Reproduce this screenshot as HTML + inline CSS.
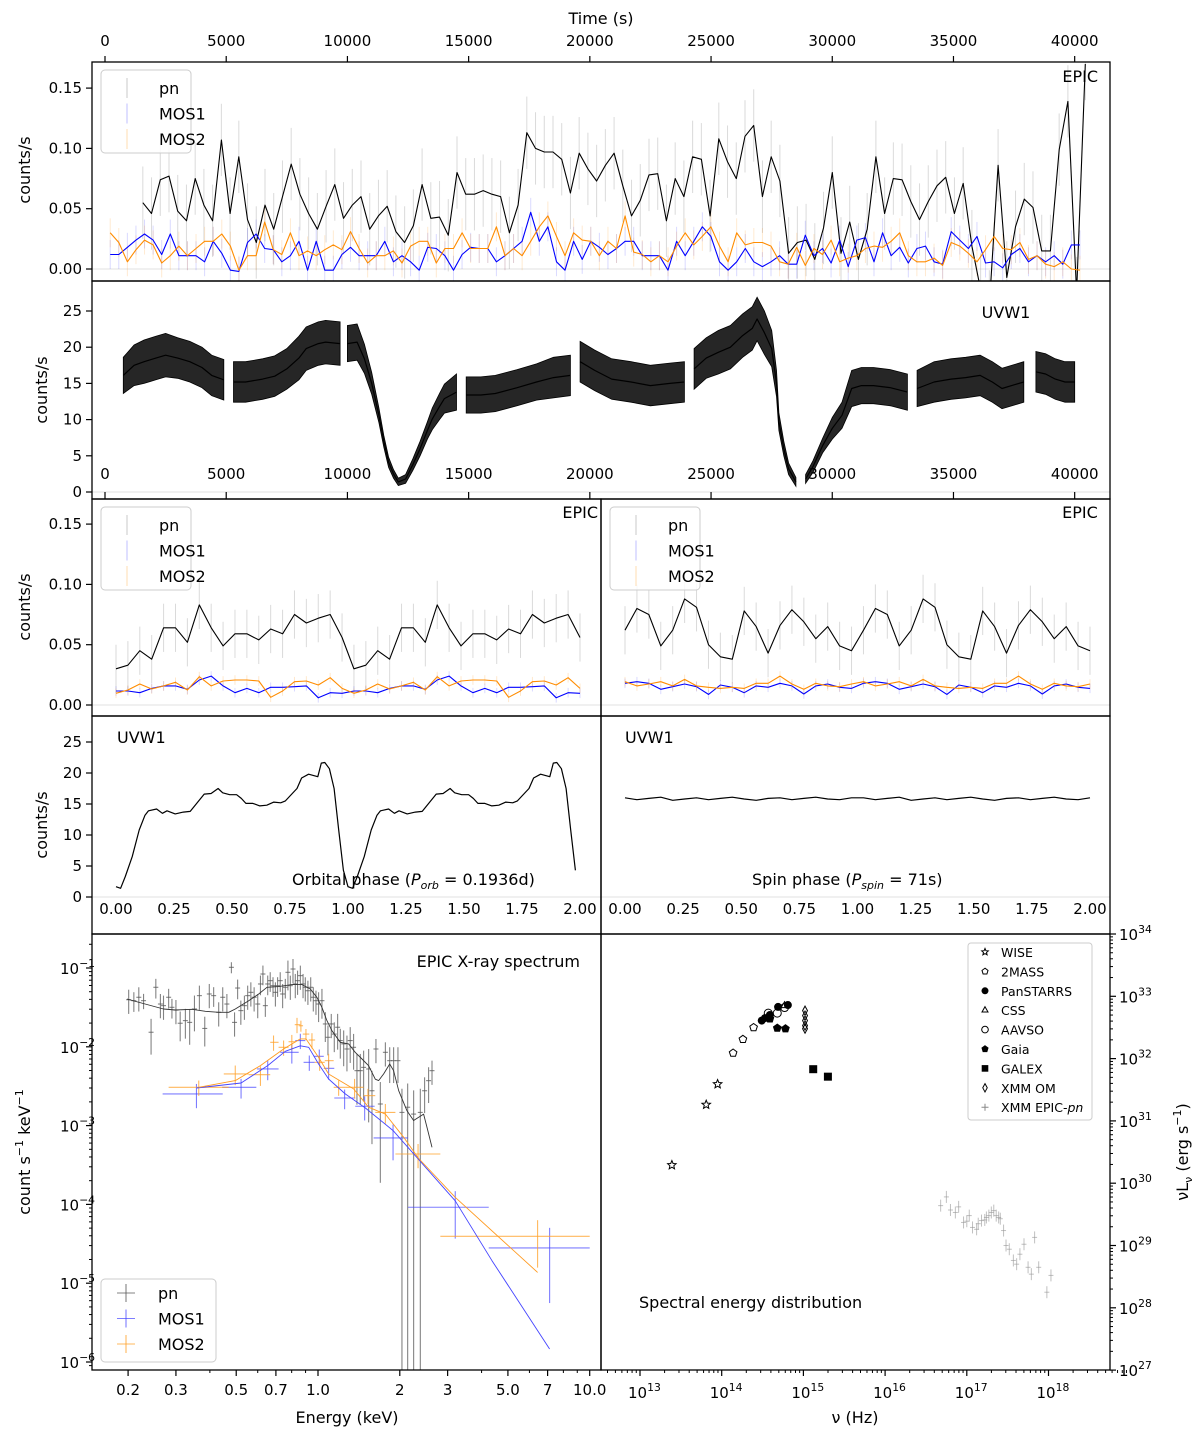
<!DOCTYPE html>
<html><head><meta charset="utf-8"><title>Light curves and spectra</title>
<style>
html,body{margin:0;padding:0;background:#fff;}
svg{display:block;font-family:"DejaVu Sans","Liberation Sans",sans-serif;}
text{fill:#000;}
</style></head>
<body>
<svg id="fig" width="1200" height="1433" viewBox="0 0 1200 1433" xmlns="http://www.w3.org/2000/svg">
<defs>
<clipPath id="c1"><rect x="92" y="62" width="1018" height="219"/></clipPath>
<clipPath id="c2"><rect x="92" y="281" width="1018" height="218"/></clipPath>
<clipPath id="c3l"><rect x="92" y="499" width="509" height="217"/></clipPath>
<clipPath id="c3r"><rect x="601" y="499" width="509" height="217"/></clipPath>
<clipPath id="c4l"><rect x="92" y="716" width="509" height="218"/></clipPath>
<clipPath id="c4r"><rect x="601" y="716" width="509" height="218"/></clipPath>
<clipPath id="c5l"><rect x="92" y="934" width="509" height="436"/></clipPath>
<clipPath id="c5r"><rect x="601" y="934" width="509" height="436"/></clipPath>
</defs>
</svg>
<script>
// ---------- DATA ----------
const pnT0 = 1560, pnDt = 360;
const pnRate = [0.055,0.046,0.074,0.077,0.048,0.040,0.075,0.053,0.040,0.107,
0.046,0.093,0.041,0.022,0.053,0.033,0.060,0.087,0.062,0.046,
0.033,0.052,0.070,0.042,0.053,0.060,0.033,0.044,0.052,0.031,
0.022,0.036,0.070,0.042,0.043,0.028,0.080,0.062,0.062,0.065,
0.062,0.060,0.030,0.053,0.113,0.100,0.097,0.097,0.091,0.063,
0.096,0.083,0.073,0.086,0.096,0.069,0.044,0.057,0.078,0.079,
0.040,0.075,0.060,0.093,0.091,0.044,0.108,0.089,0.075,0.110,
0.119,0.060,0.093,0.073,0.013,0.022,0.024,0.008,0.034,0.080,
0.013,0.039,0.008,0.033,0.093,0.046,0.075,0.074,0.056,0.041,
0.056,0.069,0.076,0.046,0.071,0.019,-0.017,-0.031,0.086,-0.007,
0.035,0.058,0.051,0.015,0.015,0.099,0.139,-0.020,0.17];
const mosT0 = 215, mosDt = 354;
const mos1Rate = [0.012,0.012,0.018,0.024,0.029,0.024,0.012,0.029,0.011,0.011,0.011,0.006,0.023,0.013,-0.001,-0.002,0.022,0.029,0.017,0.016,
0.006,0.011,0.023,-0.001,0.023,-0.001,-0.001,0.012,0.018,0.011,0.011,0.011,0.023,0.006,0.011,0.006,-0.001,0.018,0.017,0.011,
-0.001,0.012,0.018,0.017,0.017,0.006,0.011,0.017,0.023,0.047,0.023,0.035,0.006,-0.001,0.023,0.008,0.023,0.018,0.012,0.017,
0.023,0.023,0.011,0.011,0.011,-0.001,0.023,0.011,0.023,0.035,0.027,0.006,-0.001,0.006,0.017,0.006,0.002,0.006,0.011,0.004,
0.004,0.028,0.011,0.017,0.005,0.024,0.002,0.024,0.026,0.006,0.030,0.011,0.018,0.005,0.017,0.019,0.006,0.004,0.031,0.024,
0.017,0.027,0.005,0.006,0.001,0.012,0.017,0.006,0.011,0.006,0.011,0.004,0.020,0.020];
const mos2Rate = [0.030,0.022,0.006,0.016,0.024,0.020,0.005,0.011,0.019,0.011,0.017,0.023,0.023,0.029,0.019,-0.001,0.011,0.011,0.039,0.016,
0.012,0.030,0.011,0.015,0.011,0.016,0.020,0.016,0.031,0.017,0.005,0.011,0.011,0.015,0.005,0.019,0.023,0.023,0.005,0.017,
0.017,0.030,0.017,0.017,0.017,0.035,0.011,0.017,0.011,0.023,0.035,0.044,0.027,0.011,0.030,0.024,0.023,0.011,0.023,0.017,
0.044,0.014,0.012,0.006,0.011,0.006,0.019,0.030,0.020,0.027,0.035,0.019,0.006,0.030,0.020,0.022,0.022,0.019,0.006,0.004,
0.018,0.003,0.017,0.012,0.024,0.006,0.009,0.011,0.017,0.019,0.018,0.023,0.030,0.011,0.006,0.006,0.009,0.003,0.022,0.019,
0.013,0.006,0.016,0.027,0.017,0.016,0.022,0.008,0.011,0.004,0.002,0.006,0.000,-0.001];
const pnErr = 0.03, mosErr = 0.012;

const uvTime = [754,1200,1614,2100,2500,3000,3500,4000,4400,4900,null,5300,5800,6500,7000,7500,8000,8300,8800,9100,9700,null,
10000,10400,10700,11000,11300,11500,11700,11900,12100,12400,12700,13000,13300,13500,13800,14000,14500,null,
14900,15500,16100,17000,17800,18500,19200,null,19600,20200,20900,21700,22500,23300,23900,null,
24300,24800,25300,25800,26300,26700,26900,27200,27500,27700,27800,28000,28200,28500,null,
28900,29200,29600,30000,30400,30800,31200,31700,32400,33100,null,33500,34200,34900,35500,36100,36600,37000,37500,37900,null,
38400,38800,39200,39600,40000];
const uvRate = [16.1,17.5,18,18.5,18.9,18.5,18,17.2,16.1,15.5,null,15.2,15.2,15.6,16,17,18.5,19.8,20.5,20.7,20.5,null,
20.5,20.7,18.4,15,10.6,7,4.1,2.5,1.4,1.8,3.8,6,8.5,10.1,11.8,12.9,13.8,null,
13.4,13.4,13.6,14.4,15.2,15.8,16.1,null,18,16.8,15.6,15.2,14.7,15,15.2,null,
17,18.5,19.3,20,21.6,22.6,23.9,22,19.8,15,9.7,6,3.2,1.4,null,
1.8,3.5,6.4,8.8,10.6,14.3,14.7,14.7,14.4,13.8,null,14.3,15.2,15.6,15.8,16.1,15.2,14.3,14.8,15.2,null,
16.6,16.3,15.6,15.2,15.2];
const uvScatter = [2.5,2.8,3,3,3,2.8,2.8,2.8,2.8,2.8,null,2.8,2.8,2.8,2.8,2.8,3,3,3,3,3,null,
2.5,2.5,2,1.5,1,0.8,0.7,0.6,0.5,0.6,0.8,1,1.2,1.5,1.8,2,2.5,null,
2.5,2.5,2.5,2.5,2.5,2.8,2.8,null,2.8,2.8,2.8,2.8,2.8,2.8,2.8,null,
2.8,2.8,3,3,3,3,3,3,2.5,1.8,1.2,1,0.8,0.6,null,
0.6,0.8,1,1.5,1.8,2.5,2.5,2.5,2.5,2.5,null,2.5,2.8,2.8,2.8,2.8,2.8,2.8,2.8,2.8,null,
2.8,2.8,2.8,2.8,2.8];

const orbPn = [0.030,0.033,0.045,0.038,0.064,0.064,0.052,0.083,0.064,0.049,0.059,0.059,0.054,0.063,0.059,0.075,0.068,0.072,0.075,0.056];
const orbMos1 = [0.0116,0.0116,0.0102,0.0138,0.0158,0.0158,0.013,0.0207,0.024,0.0158,0.0102,0.0138,0.0102,0.0147,0.0147,0.0152,0.0158,0.006,0.0102,0.0097];
const orbMos2 = [0.0097,0.0124,0.0174,0.0133,0.0158,0.0188,0.0124,0.0235,0.0158,0.0199,0.0207,0.0207,0.0199,0.0064,0.0116,0.0193,0.0199,0.0166,0.0226,0.0138];
const spinPn = [0.062,0.080,0.075,0.049,0.062,0.088,0.081,0.050,0.040,0.038,0.078,0.065,0.043,0.066,0.079,0.069,0.055,0.065,0.049,0.045];
const spinMos1 = [0.018,0.0193,0.018,0.013,0.0152,0.0174,0.0152,0.0088,0.0166,0.0147,0.0102,0.0158,0.0147,0.018,0.0158,0.0091,0.0158,0.0174,0.0147,0.0138];
const spinMos2 = [0.0193,0.0158,0.0174,0.0193,0.0158,0.0212,0.0158,0.0147,0.0138,0.0147,0.0138,0.018,0.018,0.024,0.0174,0.013,0.018,0.0158,0.0152,0.0174];

const orbUvPhase = [0,0.02,0.04,0.07,0.10,0.125,0.14,0.175,0.2,0.22,0.255,0.29,0.32,0.35,0.38,0.41,0.44,0.46,0.49,0.52,0.54,0.56,0.59,0.62,0.65,0.68,0.71,0.73,0.76,0.78,0.80,0.83,0.87,0.885,0.90,0.92,0.94,0.96,0.98];
const orbUvRate = [1.66,1.4,3.3,6.5,10.8,13.2,13.9,14.2,13.5,13.9,13.4,13.7,13.8,15.2,16.6,16.7,17.5,16.8,16.5,16.5,15.9,15.1,15.1,14.7,14.8,15.3,15.2,15.5,16.7,17.5,19.2,19.8,19.4,21.6,21.7,20.7,17.5,10.8,4.3];
const spinUvRate = [16.0,15.7,15.9,16.1,15.6,15.8,16.0,15.7,15.9,16.1,15.8,15.6,15.9,16.0,15.7,15.9,16.1,15.8,15.7,16.0];

const pnE = [0.201,0.210,0.219,0.228,0.243,0.253,0.263,0.270,0.282,0.290,0.300,0.311,0.325,0.337,0.351,0.366,0.383,0.398,0.413,0.431,0.446,0.462,0.480,0.493,0.506,0.520,0.536,0.551,0.566,0.582,0.600,0.614,0.627,0.640,0.653,0.667,0.683,0.697,0.710,0.726,0.741,0.758,0.775,0.791,0.809,0.825,0.841,0.861,0.881,0.898,0.918,0.940,0.961,0.983,1.005,1.034,1.064,1.088,1.119,1.148,1.181,1.208,1.243,1.278,1.314,1.352,1.391,1.431,1.472,1.536,1.580,1.634,1.696,1.770,1.836,1.898,1.969,2.037,2.138,2.249,2.380,2.468,2.553,2.628];
const pnCounts = [0.0396,0.0385,0.0425,0.0385,0.0153,0.0569,0.0349,0.0333,0.0425,0.0317,
0.0293,0.0199,0.0215,0.0204,0.0302,0.0446,0.0171,0.0468,0.0446,0.0274,
0.0425,0.0349,0.102,0.0204,0.0557,0.0288,0.0333,0.0446,0.0491,0.0425,
0.0349,0.0627,0.0839,0.0333,0.0627,0.0691,0.0597,0.0491,0.0597,0.0691,
0.0468,0.0569,0.0881,0.0597,0.0971,0.0627,0.0691,0.0800,0.0627,0.0569,
0.0515,0.0569,0.0425,0.0385,0.0349,0.0385,0.0195,0.0132,0.0195,0.0145,
0.0177,0.0120,0.0109,0.00938,0.0120,0.00985,0.00498,0.00498,0.00548,0.00523,
0.00277,0.00938,0.00188,0.00851,0.00667,0.00667,0.00667,0.00147,0.00171,0.00140,
0.00147,0.00277,0.00372,0.00498];
const pnRelErr = [.34,.28,.34,.22,.48,.28,.34,.34,.28,.28, .34,.41,.41,.48,.48,.34,.41,.34,.28,.34,
.34,.34,.16,.34,.28,.34,.34,.34,.34,.34, .34,.28,.28,.28,.28,.28,.28,.34,.28,.28,
.34,.28,.41,.34,.34,.34,.34,.34,.34,.34, .34,.34,.34,.34,.41,.41,.41,.41,.34,.41,
.48,.41,.48,.48,.48,.48,.63,.63,.63,.79, .79,.34,.9,.34,.48,.48,.48,1,1,1, 1,.48,.48,.34];
const pnModelE = [0.198,0.231,0.270,0.299,0.344,0.385,0.431,0.469,0.496,0.556,0.605,0.649,0.716,0.802,0.873,0.937,0.991,1.034,1.078,1.125,1.208,1.296,1.371,1.452,1.536,1.625,1.671,1.744,1.836,1.898,1.982,2.124,2.249,2.447,2.518,2.628];
const pnModelC = [0.0404,0.0349,0.0302,0.0293,0.0299,0.0282,0.0274,0.0274,0.0302,0.0385,0.0468,0.0569,0.0580,0.0615,0.0615,0.0541,0.0425,0.0317,0.0215,0.0160,0.0114,0.0109,0.00851,0.00700,0.00576,0.00388,0.00372,0.00452,0.00605,0.00498,0.00277,0.00155,0.00116,0.00140,0.00095,0.00053];
const mos1E = [0.357,0.521,0.653,0.801,0.861,0.929,1.011,1.094,1.253,1.485,1.889,3.20,7.12];
const mos1ELo = [0.268,0.444,0.596,0.726,0.825,0.885,0.964,1.050,1.148,1.371,1.602,2.145,4.25];
const mos1EHi = [0.446,0.593,0.716,0.849,0.898,0.973,1.050,1.148,1.371,1.616,2.145,4.25,10.0];
const mos1Counts = [0.00252,0.00306,0.00523,0.00851,0.0120,0.00635,0.00757,0.00533,0.00224,0.00176,0.000697,9.2e-5,2.8e-5];
const mos1RelErr = [.34,.28,.28,.28,.22,.22,.22,.28,.28,.34,.48,.6,.8];
const mos1ModelE = [0.357,0.521,0.653,0.758,0.861,0.924,1.005,1.094,1.261,1.494,1.889,2.28,3.20,4.37,7.12];
const mos1ModelC = [0.00300,0.00347,0.00577,0.00876,0.0103,0.00985,0.00605,0.00390,0.00252,0.00167,0.000863,0.000415,0.000111,1.93e-5,1.46e-6];
const mos2E = [0.364,0.496,0.614,0.686,0.747,0.801,0.837,0.865,0.903,0.950,1.014,1.094,1.191,1.363,1.527,1.770,2.335,6.43];
const mos2ELo = [0.282,0.450,0.556,0.667,0.716,0.779,0.821,0.849,0.879,0.924,0.973,1.059,1.142,1.261,1.472,1.625,1.927,2.82];
const mos2EHi = [0.469,0.556,0.667,0.716,0.779,0.829,0.861,0.881,0.929,0.976,1.059,1.142,1.261,1.472,1.625,1.927,2.82,10.0];
const mos2Counts = [0.00306,0.00452,0.00443,0.0114,0.00985,0.0116,0.0191,0.0185,0.0145,0.0122,0.00635,0.00667,0.00306,0.00306,0.00240,0.00147,0.000436,3.94e-5];
const mos2RelErr = [.22,.28,.28,.22,.22,.22,.22,.16,.16,.22,.22,.22,.22,.28,.22,.28,.34,.6];
const mos2ModelE = [0.364,0.496,0.614,0.747,0.861,0.903,1.005,1.094,1.352,1.536,1.770,2.067,2.34,3.20,6.43];
const mos2ModelC = [0.00306,0.00372,0.00577,0.00938,0.0126,0.0126,0.00734,0.00452,0.00292,0.00171,0.00140,0.000710,0.000388,0.000123,1.37e-5];

const wiseLogNu = [13.39,13.81,13.95], wiseLogL = [30.29,31.26,31.59];
const tmassLogNu = [14.14,14.26,14.39], tmassLogL = [32.09,32.31,32.50];
const panLogNu = [14.49,14.53,14.59,14.69,14.81], panLogL = [32.61,32.65,32.70,32.83,32.86];
const cssLogNu = [14.77], cssLogL = [32.85];
const aavsoLogNu = [14.57,14.68,14.77], aavsoLogL = [32.73,32.73,32.82];
const gaiaLogNu = [14.59,14.68,14.78], gaiaLogL = [32.64,32.49,32.48];
const galexLogNu = [15.12,15.30], galexLogL = [31.83,31.71];
const omLogNu = [15.02,15.02,15.02,15.02,15.02], omLogL = [32.77,32.69,32.61,32.53,32.48];
const xLogNu = [16.68,16.75,16.80,16.86,16.90,16.96,17.00,17.03,17.07,17.12,17.14,17.18,17.22,17.24,17.27,17.30,17.33,17.36,17.39,17.41,17.45,17.48,17.52,17.57,17.61,17.65,17.70,17.75,17.79,17.83,17.88,17.98,18.03];
const xLogL = [29.64,29.78,29.57,29.53,29.62,29.37,29.39,29.48,29.29,29.26,29.35,29.40,29.41,29.45,29.48,29.53,29.56,29.48,29.45,29.43,29.24,29.00,28.94,28.76,28.70,28.86,29.02,28.65,28.54,29.13,28.65,28.25,28.52];

const timeTicks = [0,5000,10000,15000,20000,25000,30000,35000,40000];
const epicTicks = [0,0.05,0.10,0.15];
const uvTicks = [0,5,10,15,20,25];
const phaseTicks = [0,0.25,0.5,0.75,1.0,1.25,1.5,1.75,2.0];
const energyTicks = [0.2,0.3,0.5,0.7,1.0,2,3,5,7,10];
const energyTickLabels = ['0.2','0.3','0.5','0.7','1.0','2','3','5.0','7','10.0'];
const countExps = [-1,-2,-3,-4,-5,-6];
const nuExps = [13,14,15,16,17,18];
const lumExps = [27,28,29,30,31,32,33,34];

// ---------- SCALES ----------
const tx = t => 105 + t * 0.024242;
const y1 = v => 269 - v * 1206;
const y2 = v => 492 - v * 7.24;
const y3 = v => 705 - v * 1206;
const y4 = v => 897 - v * 6.2;
const pxL = p => 116 + p * 232;
const pxR = p => 625 + p * 232.5;
const ex = E => 318 + 271.7 * Math.log10(E);
const ey = c => 968 - (Math.log10(c) + 1) * 78.8;
const sx = ln => 640 + (ln - 13) * 81.7;
const sy = lL => 996.3 - (lL - 33) * 62.3;

// ---------- HELPERS ----------
const NS = 'http://www.w3.org/2000/svg';
const svg = document.getElementById('fig');
function mk(tag, attrs, parent) {
  const e = document.createElementNS(NS, tag);
  for (const k in attrs) e.setAttribute(k, attrs[k]);
  (parent || svg).appendChild(e);
  return e;
}
function grp(clip) { return mk('g', clip ? {'clip-path': 'url(#' + clip + ')'} : {}); }
function txt(x, y, s, size, anchor, parent) {
  const t = mk('text', {x: x, y: y, 'font-size': size, 'text-anchor': anchor || 'start'}, parent);
  t.textContent = s; return t;
}
function sup(x, y, base, exp, size, anchor, parent) {
  const t = mk('text', {x: x, y: y, 'font-size': size, 'text-anchor': anchor || 'start'}, parent);
  const a = mk('tspan', {}, t); a.textContent = base;
  const b = mk('tspan', {dy: -7, 'font-size': size * 0.72}, t); b.textContent = exp;
  return t;
}
function poly(pts, stroke, w, parent) {
  return mk('polyline', {points: pts.map(p => p[0].toFixed(1) + ',' + p[1].toFixed(1)).join(' '), fill: 'none', stroke: stroke, 'stroke-width': w, 'stroke-linejoin': 'round'}, parent);
}
function line(x1, y1_, x2, y2_, stroke, w, parent) {
  return mk('line', {x1: x1, y1: y1_, x2: x2, y2: y2_, stroke: stroke, 'stroke-width': w}, parent);
}

const frames = [[92,62,1018,219,'epic-lightcurve-panel'],[92,281,1018,218,'uvw1-lightcurve-panel'],
 [92,499,509,217,'epic-orbital-panel'],[601,499,509,217,'epic-spin-panel'],
 [92,716,509,218,'uvw1-orbital-panel'],[601,716,509,218,'uvw1-spin-panel'],
 [92,934,509,436,'xray-spectrum-panel'],[601,934,509,436,'sed-panel']];

[[269,92,1110],[492,92,1110],[705,92,1110],[897,92,1110]].forEach(z => {
  const l = line(z[1], z[0], z[2], z[0], '#e0e0e0', 1);
  
  
});

// ---------- PANEL 1 ----------
const g1 = grp('c1');


function lc(values, t0, dt, err, errColor, name, g) {
  const pts = [];
  values.forEach((v, i) => {
    const x = tx(t0 + i * dt);
    const eb = line(x, y1(v - err), x, y1(v + err), errColor, 1, g);
    
    
    pts.push([x, y1(v)]);
  });
  return pts;
}
const p1pn = lc(pnRate, pnT0, pnDt, pnErr, 'rgba(150,150,150,0.35)', 'pn', g1);
const p1m1 = lc(mos1Rate, mosT0, mosDt, mosErr, 'rgba(0,0,255,0.15)', 'mos1', g1);
const p1m2 = lc(mos2Rate, mosT0, mosDt, mosErr, 'rgba(255,140,0,0.18)', 'mos2', g1);
const l1a = poly(p1pn, '#000', 1.1, g1);


const l1b = poly(p1m1, '#0000ff', 1.1, g1);


const l1c = poly(p1m2, '#ff8c00', 1.1, g1);



// ---------- PANEL 2 ----------
const g2 = grp('c2');


let seg = [];
function flushSeg() {
  if (seg.length < 2) { seg = []; return; }
  const up = seg.map(s => [tx(s[0]), y2(s[1] + s[2])]);
  const dn = seg.map(s => [tx(s[0]), y2(s[1] - s[2])]).reverse();
  const band = mk('polygon', {points: up.concat(dn).map(p => p[0].toFixed(1) + ',' + p[1].toFixed(1)).join(' '), fill: 'rgba(0,0,0,0.85)', stroke: '#000', 'stroke-width': 0.8}, g2);
  
  
  const ln = poly(seg.map(s => [tx(s[0]), y2(s[1])]), '#000', 1.2, g2);
  
  
  seg = [];
}
uvTime.forEach((t, i) => { if (t === null) flushSeg(); else seg.push([t, uvRate[i], uvScatter[i]]); });
flushSeg();

// ---------- PANEL 3 ----------
function folded(vals, pxf, yf, color, errColor, err, name, g) {
  const pts = [];
  const n = 2 * vals.length;
  for (let k = 0; k < n; k++) {
    const i = k % vals.length;
    const ph = k * 2 / (n - 1);
    const x = pxf(ph), v = vals[i];
    if (err > 0) {
      const eb = line(x, yf(v - err), x, yf(v + err), errColor, 1, g);
      
      
    }
    pts.push([x, yf(v)]);
  }
  const l = poly(pts, color, 1.1, g);
  
  
}
const g3l = grp('c3l');


const g3r = grp('c3r');


folded(orbPn, pxL, y3, '#000', 'rgba(150,150,150,0.35)', 0.02, 'pn-orbital', g3l);
folded(orbMos1, pxL, y3, '#0000ff', 'rgba(0,0,255,0.15)', 0.004, 'mos1-orbital', g3l);
folded(orbMos2, pxL, y3, '#ff8c00', 'rgba(255,140,0,0.2)', 0.004, 'mos2-orbital', g3l);
folded(spinPn, pxR, y3, '#000', 'rgba(150,150,150,0.35)', 0.02, 'pn-spin', g3r);
folded(spinMos1, pxR, y3, '#0000ff', 'rgba(0,0,255,0.15)', 0.004, 'mos1-spin', g3r);
folded(spinMos2, pxR, y3, '#ff8c00', 'rgba(255,140,0,0.2)', 0.004, 'mos2-spin', g3r);

// ---------- PANEL 4 ----------
const g4l = grp('c4l');


const orbPts = [];
for (let c = 0; c < 2; c++) orbUvPhase.forEach((p, i) => orbPts.push([pxL(p + c), y4(orbUvRate[i])]));
const l4a = poly(orbPts, '#000', 1.2, g4l);


const g4r = grp('c4r');


const spinPts = [];
const ns = 2 * spinUvRate.length;
for (let k = 0; k < ns; k++) spinPts.push([pxR(k * 2 / (ns - 1)), y4(spinUvRate[k % spinUvRate.length])]);
const l4b = poly(spinPts, '#000', 1.2, g4r);



// ---------- PANEL 5L ----------
const g5l = grp('c5l');


function specPts(E, C, lo, hi, R, color, name, g, w) {
  E.forEach((e, i) => {
    const c = C[i], r = R[i];
    const x = ex(e), yc = ey(c);
    const yLo = (c * (1 - r) > 1e-9) ? ey(c * (1 - r)) : 1400;
    const v = line(x, ey(c * (1 + r)), x, yLo, color, w, g);
    
    
    const xl = lo ? ex(lo[i]) : x - 2.5, xh = hi ? ex(hi[i]) : x + 2.5;
    const h = line(xl, yc, xh, yc, color, w, g);
    
    
  });
}
specPts(pnE, pnCounts, null, null, pnRelErr, 'rgba(90,90,90,0.75)', 'pn', g5l, 1.1);
specPts(mos1E, mos1Counts, mos1ELo, mos1EHi, mos1RelErr, 'rgba(70,70,255,0.7)', 'mos1', g5l, 1.1);
specPts(mos2E, mos2Counts, mos2ELo, mos2EHi, mos2RelErr, 'rgba(255,160,40,0.75)', 'mos2', g5l, 1.1);
const m0 = poly(pnModelE.map((e, i) => [ex(e), ey(pnModelC[i])]), '#333', 0.9, g5l);


const m1 = poly(mos1ModelE.map((e, i) => [ex(e), ey(mos1ModelC[i])]), '#4444ff', 0.9, g5l);


const m2 = poly(mos2ModelE.map((e, i) => [ex(e), ey(mos2ModelC[i])]), '#ff9a20', 0.9, g5l);



// ---------- PANEL 5R ----------
const g5r = grp('c5r');


function marker(kind, x, y, s, g) {
  let e;
  const starPts = n => { const a = []; for (let k = 0; k < 2 * n; k++) { const rr = k % 2 ? s * 0.45 : s; const an = -Math.PI / 2 + k * Math.PI / n; a.push((x + rr * Math.cos(an)).toFixed(1) + ',' + (y + rr * Math.sin(an)).toFixed(1)); } return a.join(' '); };
  const ngon = (n, rot) => { const a = []; for (let k = 0; k < n; k++) { const an = rot + k * 2 * Math.PI / n; a.push((x + s * Math.cos(an)).toFixed(1) + ',' + (y + s * Math.sin(an)).toFixed(1)); } return a.join(' '); };
  if (kind === 'star') e = mk('polygon', {points: starPts(5), fill: 'none', stroke: '#000', 'stroke-width': 1}, g);
  else if (kind === 'pent') e = mk('polygon', {points: ngon(5, -Math.PI / 2), fill: 'none', stroke: '#000', 'stroke-width': 1}, g);
  else if (kind === 'fpent') e = mk('polygon', {points: ngon(5, -Math.PI / 2), fill: '#000', stroke: '#000', 'stroke-width': 1}, g);
  else if (kind === 'dot') e = mk('circle', {cx: x, cy: y, r: s, fill: '#000'}, g);
  else if (kind === 'ring') e = mk('circle', {cx: x, cy: y, r: s, fill: 'none', stroke: '#000', 'stroke-width': 1}, g);
  else if (kind === 'tri') e = mk('polygon', {points: ngon(3, -Math.PI / 2), fill: 'none', stroke: '#000', 'stroke-width': 1}, g);
  else if (kind === 'square') e = mk('rect', {x: x - s, y: y - s, width: 2 * s, height: 2 * s, fill: '#000'}, g);
  else if (kind === 'diamond') e = mk('polygon', {points: [x + ',' + (y - s * 1.3), (x + s * 0.7) + ',' + y, x + ',' + (y + s * 1.3), (x - s * 0.7) + ',' + y].join(' '), fill: 'none', stroke: '#000', 'stroke-width': 1}, g);
  else e = mk('path', {d: 'M' + (x - s) + ' ' + y + 'H' + (x + s) + 'M' + x + ' ' + (y - s) + 'V' + (y + s), stroke: '#888', 'stroke-width': 1}, g);
  return e;
}
function sedSeries(N, L, kind, s, name) {
  N.forEach((n, i) => {
    const m = marker(kind, sx(n), sy(L[i]), s, g5r);
    
    
  });
}
sedSeries(wiseLogNu, wiseLogL, 'star', 4.5, 'wise');
sedSeries(tmassLogNu, tmassLogL, 'pent', 4, '2mass');
sedSeries(panLogNu, panLogL, 'dot', 4, 'panstarrs');
sedSeries(cssLogNu, cssLogL, 'tri', 4, 'css');
sedSeries(aavsoLogNu, aavsoLogL, 'ring', 4, 'aavso');
sedSeries(gaiaLogNu, gaiaLogL, 'fpent', 4, 'gaia');
sedSeries(galexLogNu, galexLogL, 'square', 4, 'galex');
sedSeries(omLogNu, omLogL, 'diamond', 3.5, 'xmm-om');
xLogNu.forEach((n, i) => {
  const x = sx(n), y = sy(xLogL[i]);
  const v = line(x, y - 6, x, y + 6, 'rgba(150,150,150,0.6)', 1, g5r);
  
  
  const h = line(x - 2.5, y, x + 2.5, y, 'rgba(150,150,150,0.6)', 1, g5r);
  
  
});

frames.forEach(f => {
  const r = mk('rect', {x: f[0], y: f[1], width: f[2], height: f[3], fill: 'none', stroke: '#000', 'stroke-width': 1.3});
  
  
});

// ---------- AXES ----------
const ax = grp(null);


timeTicks.forEach(t => {
  const x = tx(t);
  const a = line(x, 56, x, 62, '#000', 1.2, ax);
  
  
  const l = txt(x, 46, String(t), 15, 'middle', ax);
  
  
  const b = line(x, 492, x, 499, '#000', 1.2, ax);
  
  
  const l2 = txt(x, 479, String(t), 15, 'middle', ax);
  
  
});
epicTicks.forEach(v => {
  [y1, y3].forEach(f => {
    const a = line(86, f(v), 92, f(v), '#000', 1.2, ax);
    
    
    const l = txt(82, f(v) + 5, v.toFixed(2), 15, 'end', ax);
    
    
  });
});
uvTicks.forEach(v => {
  [y2, y4].forEach(f => {
    const a = line(86, f(v), 92, f(v), '#000', 1.2, ax);
    
    
    const l = txt(82, f(v) + 5, String(v), 15, 'end', ax);
    
    
  });
});
phaseTicks.forEach(p => {
  [pxL, pxR].forEach(f => {
    const l = txt(f(p), 914, p.toFixed(2), 15, 'middle', ax);
    
    
  });
});
energyTicks.forEach((e, i) => {
  const a = line(ex(e), 1370, ex(e), 1376, '#000', 1.2, ax);
  
  
  const l = txt(ex(e), 1395, energyTickLabels[i], 15, 'middle', ax);
  
  
});
[0.4,0.6,0.8,0.9,4,6,8,9].forEach(e => {
  const a = line(ex(e), 1370, ex(e), 1373, '#000', 1, ax);
  
  
});
countExps.forEach(p => {
  const y = ey(Math.pow(10, p));
  const a = line(86, y, 92, y, '#000', 1.2, ax);
  
  
  const l = sup(60, y + 6, '10', '\u2212' + Math.abs(p), 15, 'start', ax);
  
  
  for (let k = 2; k <= 9; k++) {
    const ym = ey(Math.pow(10, p) * k);
    if (ym < 936) continue;
    const m = line(89, ym, 92, ym, '#000', 1, ax);
    
    
  }
  for (let k = 2; k <= 9; k++) {
    const ym = ey(Math.pow(10, p - 1) * k);
    if (p !== -6 || ym > 1369) continue;
    const m = line(89, ym, 92, ym, '#000', 1, ax);
    
    
  }
});
nuExps.forEach(p => {
  const x = sx(p);
  const a = line(x, 1370, x, 1376, '#000', 1.2, ax);
  
  
  const l = sup(x - 12, 1398, '10', String(p), 15, 'start', ax);
  
  
  for (let k = 2; k <= 9; k++) {
    const xm = sx(p + Math.log10(k));
    const m = line(xm, 1370, xm, 1373, '#000', 1, ax);
    
    
  }
});
[2,3,4,5,6,7,8,9].forEach(k => {
  const xm = sx(12 + Math.log10(k));
  if (xm < 602) return;
  const m = line(xm, 1370, xm, 1373, '#000', 1, ax);
  
  
});
lumExps.forEach(p => {
  const y = sy(p);
  const a = line(1110, y, 1116, y, '#000', 1.2, ax);
  
  
  const l = sup(1119, y + 6, '10', String(p), 15, 'start', ax);
  
  
  if (p === 34) return;
  for (let k = 2; k <= 9; k++) {
    const ym = sy(p + Math.log10(k));
    const m = line(1110, ym, 1113, ym, '#000', 1, ax);
    
    
  }
});

// ---------- TITLES ----------
function rot(x, y, s) {
  const t = mk('text', {x: 0, y: 0, 'font-size': 16, 'text-anchor': 'middle', transform: 'translate(' + x + ',' + y + ') rotate(-90)'});
  t.textContent = s;
  return t;
}
const tt = txt(601, 24, 'Time (s)', 16, 'middle');


const r1 = rot(30, 170, 'counts/s');


const r2 = rot(47, 390, 'counts/s');


const r3 = rot(30, 607, 'counts/s');


const r4 = rot(47, 825, 'counts/s');


const r5 = mk('text', {x: 0, y: 0, 'font-size': 16, 'text-anchor': 'middle', transform: 'translate(30,1152) rotate(-90)'});


r5.innerHTML = 'count s<tspan dy="-7" font-size="11">\u22121</tspan><tspan dy="7"> keV</tspan><tspan dy="-7" font-size="11">\u22121</tspan>';
const r6 = mk('text', {x: 0, y: 0, 'font-size': 16, 'text-anchor': 'middle', transform: 'translate(1188,1152) rotate(-90)'});


r6.innerHTML = '\u03BDL<tspan dy="4" font-size="11">\u03BD</tspan><tspan dy="-4"> (erg s</tspan><tspan dy="-7" font-size="11">\u22121</tspan><tspan dy="7">)</tspan>';
const xe = txt(347, 1423, 'Energy (keV)', 16, 'middle');


const xn = txt(855, 1423, '\u03BD (Hz)', 16, 'middle');



const ann = [[1098,82,'EPIC','end','epic-label'],[1006,318,'UVW1','middle','uvw1-label'],[598,518,'EPIC','end','epic-orbital-label'],[1080,518,'EPIC','middle','epic-spin-label'],
 [117,743,'UVW1','start','uvw1-orbital-label'],[625,743,'UVW1','start','uvw1-spin-label'],[580,967,'EPIC X-ray spectrum','end','spectrum-title'],[639,1308,'Spectral energy distribution','start','sed-title']];
ann.forEach(a => {
  const t = txt(a[0], a[1], a[2], 16, a[3]);
  
  
});
const orbT = mk('text', {x: 292, y: 885, 'font-size': 16});


orbT.innerHTML = 'Orbital phase (<tspan font-style="italic">P</tspan><tspan dy="4" font-size="11" font-style="italic">orb</tspan><tspan dy="-4"> = 0.1936d)</tspan>';
const spT = mk('text', {x: 752, y: 885, 'font-size': 16});


spT.innerHTML = 'Spin phase (<tspan font-style="italic">P</tspan><tspan dy="4" font-size="11" font-style="italic">spin</tspan><tspan dy="-4"> = 71s)</tspan>';

// ---------- LEGENDS ----------
function lcLegend(x, y, name) {
  const g = grp(null);
  
  
  mk('rect', {x: x, y: y, width: 90, height: 83, rx: 4, fill: 'rgba(255,255,255,0.85)', stroke: '#ccc', 'stroke-width': 1}, g);
  [['pn', 'rgba(150,150,150,0.5)'], ['MOS1', 'rgba(0,0,255,0.25)'], ['MOS2', 'rgba(255,140,0,0.3)']].forEach((e, i) => {
    const yy = y + 18 + i * 25.5;
    line(x + 26, yy - 10, x + 26, yy + 10, e[1], 1, g);
    const t = txt(x + 58, yy + 6, e[0], 16, 'start', g);
    
    
  });
}
lcLegend(101, 70, 'epic-lightcurve-legend');
lcLegend(101, 507, 'epic-orbital-legend');
lcLegend(610, 507, 'epic-spin-legend');
(function () {
  const g = grp(null);
  
  
  mk('rect', {x: 101, y: 1279, width: 115, height: 83, rx: 4, fill: 'rgba(255,255,255,0.85)', stroke: '#ccc', 'stroke-width': 1}, g);
  [['pn', 'rgba(90,90,90,0.75)'], ['MOS1', 'rgba(70,70,255,0.7)'], ['MOS2', 'rgba(255,160,40,0.75)']].forEach((e, i) => {
    const yy = 1293 + i * 25.5;
    line(117, yy, 135, yy, e[1], 1.1, g);
    line(126, yy - 9, 126, yy + 9, e[1], 1.1, g);
    const t = txt(158, yy + 6, e[0], 16, 'start', g);
    
    
  });
})();
(function () {
  const g = grp(null);
  
  
  mk('rect', {x: 968, y: 943, width: 124, height: 177, rx: 3, fill: 'rgba(255,255,255,0.85)', stroke: '#ccc', 'stroke-width': 1}, g);
  const ent = [['WISE','star',3.5],['2MASS','pent',3.2],['PanSTARRS','dot',3.5],['CSS','tri',3.5],['AAVSO','ring',3.3],['Gaia','fpent',3.2],['GALEX','square',3.3],['XMM OM','diamond',3.2],['XMM EPIC-','plus',3.5]];
  ent.forEach((e, i) => {
    const yy = 952 + i * 19.4;
    marker(e[1], 985, yy, e[2], g);
    const t = txt(1001, yy + 5, e[0], 12.5, 'start', g);
    if (i === 8) { const it = mk('tspan', {'font-style': 'italic'}, t); it.textContent = 'pn'; }
    
    
  });
})();
</script>
</body></html>
